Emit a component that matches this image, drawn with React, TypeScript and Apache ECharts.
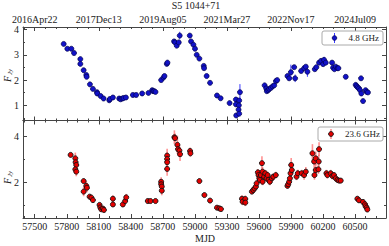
import React, { useEffect, useRef } from "react";
import * as echarts from "echarts";

// ---------- data ----------
const mjd48 = [57771, 57805, 57843, 57868, 57927, 57927, 57958, 57983, 57986, 58017, 58045, 58083, 58085, 58117, 58145, 58198, 58204, 58232, 58291, 58304, 58320, 58332, 58354, 58419, 58450, 58506, 58565, 58600, 58609, 58619, 58631, 58684, 58706, 58715, 58737, 58743, 58805, 58815, 58830, 58849, 58858, 58952, 58964, 58986, 59001, 59017, 59042, 59083, 59086, 59110, 59142, 59207, 59241, 59325, 59384, 59384, 59387, 59415, 59412, 59409, 59415, 59422, 59653, 59668, 59674, 59687, 59696, 59712, 59727, 59743, 59759, 59771, 59867, 59883, 59899, 59930, 59939, 59995, 60023, 60039, 60054, 60123, 60138, 60163, 60182, 60201, 60210, 60226, 60285, 60294, 60307, 60319, 60335, 60344, 60413, 60506, 60515, 60525, 60537, 60547, 60556, 60559, 60575, 60599, 60609, 60621];
const flux48 = [3.43, 3.24, 3.24, 3.07, 2.83, 2.64, 2.39, 2.2, 2.13, 1.83, 1.65, 1.52, 1.47, 1.37, 1.27, 1.2, 1.25, 1.31, 1.27, 1.24, 1.27, 1.29, 1.31, 1.41, 1.41, 1.47, 1.49, 1.6, 1.56, 1.56, 1.53, 2.0, 2.1, 2.16, 2.64, 2.69, 3.53, 3.49, 3.36, 3.49, 3.76, 3.76, 3.53, 3.4, 3.24, 3.0, 2.85, 2.56, 2.47, 2.16, 1.89, 1.39, 1.28, 1.09, 1.23, 1.04, 0.6, 1.19, 1.0, 0.83, 0.67, 1.52, 1.79, 1.67, 1.56, 1.6, 1.65, 1.69, 1.75, 1.79, 1.96, 2.0, 2.16, 2.07, 2.31, 2.51, 2.07, 2.36, 2.47, 2.53, 2.33, 2.43, 2.51, 2.69, 2.76, 2.63, 2.8, 2.69, 2.69, 2.49, 2.43, 2.53, 2.47, 2.47, 2.13, 1.81, 1.76, 1.71, 1.67, 1.6, 2.07, 1.47, 1.17, 1.6, 1.53, 1.51];
const err48 = [0.04, 0.04, 0.04, 0.04, 0.05, 0.05, 0.04, 0.04, 0.04, 0.04, 0.04, 0.04, 0.04, 0.03, 0.03, 0.03, 0.03, 0.03, 0.03, 0.03, 0.03, 0.03, 0.03, 0.03, 0.03, 0.03, 0.03, 0.04, 0.03, 0.03, 0.03, 0.04, 0.04, 0.04, 0.04, 0.04, 0.05, 0.05, 0.05, 0.05, 0.15, 0.05, 0.05, 0.05, 0.05, 0.04, 0.04, 0.05, 0.05, 0.04, 0.04, 0.04, 0.04, 0.08, 0.1, 0.1, 0.1, 0.08, 0.1, 0.1, 0.1, 0.32, 0.04, 0.04, 0.04, 0.04, 0.04, 0.04, 0.04, 0.04, 0.04, 0.04, 0.05, 0.06, 0.3, 0.06, 0.15, 0.05, 0.05, 0.05, 0.2, 0.05, 0.05, 0.05, 0.06, 0.06, 0.12, 0.05, 0.05, 0.05, 0.05, 0.05, 0.05, 0.05, 0.05, 0.05, 0.05, 0.05, 0.05, 0.05, 0.05, 0.06, 0.06, 0.05, 0.05, 0.05];

const mjd23 = [57836, 57880, 57883, 57889, 57880, 57889, 57958, 57983, 57989, 57958, 58014, 58030, 58045, 58107, 58114, 58123, 58139, 58148, 58232, 58232, 58325, 58347, 58357, 58559, 58584, 58631, 58684, 58684, 58690, 58690, 58740, 58740, 58740, 58740, 58808, 58814, 58836, 58842, 58855, 58861, 58955, 58958, 59042, 59089, 59142, 59207, 59229, 59244, 59441, 59447, 59472, 59472, 59534, 59547, 59559, 59572, 59578, 59590, 59596, 59603, 59609, 59618, 59628, 59634, 59634, 59649, 59659, 59671, 59681, 59690, 59702, 59721, 59734, 59758, 59867, 59874, 59883, 59890, 59896, 59902, 59908, 59952, 59964, 60001, 60023, 60039, 60101, 60117, 60132, 60120, 60132, 60157, 60163, 60160, 60232, 60241, 60272, 60288, 60303, 60319, 60335, 60350, 60366, 60522, 60537, 60574, 60593, 60599, 60609, 60615];
const flux23 = [3.2, 3.05, 2.88, 2.76, 2.57, 2.47, 2.06, 1.85, 1.77, 1.6, 1.38, 1.34, 1.23, 1.02, 0.91, 0.83, 0.86, 0.8, 1.29, 1.04, 1.04, 1.19, 1.35, 1.19, 1.19, 1.19, 2.03, 1.92, 1.82, 1.64, 3.17, 3.02, 2.88, 2.59, 3.97, 3.93, 3.64, 3.45, 3.39, 3.23, 3.37, 3.27, 2.06, 1.45, 1.21, 0.9, 0.87, 0.84, 1.29, 1.16, 1.28, 1.12, 1.6, 1.67, 1.74, 1.82, 1.96, 2.44, 2.32, 2.18, 2.11, 2.32, 2.84, 2.47, 2.03, 2.25, 2.4, 2.18, 2.32, 2.11, 2.03, 2.18, 2.25, 2.32, 1.85, 1.92, 2.03, 2.18, 2.4, 2.76, 2.54, 2.25, 2.4, 2.4, 2.32, 2.47, 3.27, 2.91, 3.05, 2.32, 2.54, 2.57, 3.45, 2.91, 2.4, 2.32, 2.4, 2.28, 2.32, 2.18, 2.11, 2.08, 2.08, 1.29, 1.22, 1.15, 1.05, 0.96, 0.9, 0.82];
const err23 = [0.05, 0.25, 0.2, 0.2, 0.2, 0.2, 0.1, 0.2, 0.2, 0.2, 0.1, 0.1, 0.08, 0.1, 0.1, 0.1, 0.1, 0.1, 0.15, 0.1, 0.1, 0.15, 0.15, 0.08, 0.08, 0.08, 0.2, 0.2, 0.2, 0.2, 0.3, 0.3, 0.3, 0.3, 0.3, 0.2, 0.4, 0.3, 0.25, 0.3, 0.15, 0.15, 0.1, 0.06, 0.06, 0.06, 0.05, 0.05, 0.15, 0.15, 0.15, 0.15, 0.1, 0.1, 0.1, 0.1, 0.15, 0.15, 0.15, 0.15, 0.15, 0.2, 0.3, 0.2, 0.15, 0.15, 0.15, 0.15, 0.15, 0.15, 0.15, 0.15, 0.15, 0.15, 0.1, 0.1, 0.1, 0.15, 0.2, 0.3, 0.25, 0.15, 0.15, 0.15, 0.2, 0.2, 0.4, 0.3, 0.3, 0.2, 0.3, 0.2, 0.3, 0.3, 0.15, 0.15, 0.15, 0.15, 0.1, 0.1, 0.08, 0.08, 0.08, 0.1, 0.1, 0.1, 0.1, 0.1, 0.1, 0.1];

const bottomTickValues = [57500, 57800, 58100, 58400, 58700, 59000, 59300, 59600, 59900, 60200, 60500];
const topTickValues = [57500, 58100, 58700, 59300, 59900, 60500];
const topTickLabels = ["2016Apr22", "2017Dec13", "2019Aug05", "2021Mar27", "2022Nov17", "2024Jul09"];
const yTop = [1, 2, 3, 4];
const yTopMinor = [0.5, 1.5, 2.5, 3.5];
const yBot = [2, 4];
const yBotMinor = [1, 3];

const X_MIN = 57390;
const X_MAX = 60790;
const FONT = "Liberation Serif";
const FRAME = "#444";

const minorX: number[] = [];
for (let v = 57400; v <= 60700; v += 100) minorX.push(v);

function xAx(grid: number, pos: string, ticks: number[], len: number, line: boolean, label?: any) {
  return {
    type: "value", gridIndex: grid, position: pos, min: X_MIN, max: X_MAX,
    axisLine: { show: line, onZero: false, lineStyle: { color: FRAME, width: 1 } },
    axisTick: { show: true, inside: true, length: len, customValues: ticks, lineStyle: { color: FRAME, width: 1 } },
    axisLabel: label ? { show: true, fontFamily: FONT, fontSize: 10, color: "#222", margin: 3, ...label } : { show: false },
    splitLine: { show: false },
  };
}
function yAx(grid: number, pos: string, min: number, max: number, ticks: number[], len: number, line: boolean, label?: any) {
  return {
    type: "value", gridIndex: grid, position: pos, min, max,
    axisLine: { show: line, onZero: false, lineStyle: { color: FRAME, width: 1 } },
    axisTick: { show: true, inside: true, length: len, customValues: ticks, lineStyle: { color: FRAME, width: 1 } },
    axisLabel: label ? { show: true, fontFamily: FONT, fontSize: 10, color: "#222", margin: 4, ...label } : { show: false },
    splitLine: { show: false },
  };
}

function errSeries(xi: number, data: number[][], color: string, w: number) {
  return {
    type: "custom", xAxisIndex: xi, yAxisIndex: xi, data, encode: { x: 0, y: 1 }, z: 2,
    renderItem: (_p: any, api: any) => {
      const x = api.value(0), y = api.value(1), e = api.value(2);
      const a = api.coord([x, y - e]);
      const b = api.coord([x, y + e]);
      return { type: "line", shape: { x1: a[0], y1: a[1], x2: b[0], y2: b[1] }, style: { stroke: color, lineWidth: w } };
    },
  };
}

export default function App() {
  const ref = useRef<HTMLDivElement>(null);
  useEffect(() => {
    if (!ref.current) return;
    const chart = echarts.init(ref.current, null, { renderer: "svg" });
    const d48 = mjd48.map((m, i) => [m, flux48[i], err48[i]]);
    const d23 = mjd23.map((m, i) => [m, flux23[i], err23[i]]);
    const option: any = {
      animation: false,
      backgroundColor: "#fff",
      grid: [
        { left: 23, right: 3, top: 27, height: 93.5 },
        { left: 23, right: 3, top: 120.5, height: 97.5 },
      ],
      xAxis: [
        xAx(0, "bottom", topTickValues, 4, true),
        xAx(0, "bottom", minorX, 2, false),
        xAx(0, "top", topTickValues, 4, true, {
          customValues: topTickValues,
          formatter: (v: number) => topTickLabels[topTickValues.indexOf(v)] ?? "",
        }),
        xAx(0, "top", minorX, 2, false),
        xAx(1, "bottom", bottomTickValues, 4, true, {
          customValues: bottomTickValues,
          formatter: (v: number) => String(v),
        }),
        xAx(1, "bottom", minorX, 2, false),
        xAx(1, "top", topTickValues, 4, true),
        xAx(1, "top", minorX, 2, false),
      ],
      yAxis: [
        yAx(0, "left", 0.4, 4.1, yTop, 4, true, { customValues: yTop, formatter: (v: number) => String(v) }),
        yAx(0, "left", 0.4, 4.1, yTopMinor, 2, false),
        yAx(0, "right", 0.4, 4.1, yTop, 4, true),
        yAx(0, "right", 0.4, 4.1, yTopMinor, 2, false),
        yAx(1, "left", 0.45, 4.7, yBot, 4, true, { customValues: yBot, formatter: (v: number) => String(v) }),
        yAx(1, "left", 0.45, 4.7, yBotMinor, 2, false),
        yAx(1, "right", 0.45, 4.7, yBot, 4, true),
        yAx(1, "right", 0.45, 4.7, yBotMinor, 2, false),
      ],
      series: [
        errSeries(0, d48, "#3a3aff", 1),
        {
          type: "scatter", xAxisIndex: 0, yAxisIndex: 0, data: d48, z: 3,
          symbol: "circle", symbolSize: 5,
          itemStyle: { color: "#1212c8", borderColor: "#00004a", borderWidth: 0.7, opacity: 1 },
        },
        errSeries(4, d23, "rgba(255,110,110,0.75)", 1.6),
        {
          type: "scatter", xAxisIndex: 4, yAxisIndex: 4, data: d23, z: 3,
          symbol: "circle", symbolSize: 5,
          itemStyle: { color: "#e60000", borderColor: "#111", borderWidth: 0.9, opacity: 1 },
        },
      ],
      graphic: [
        { type: "text", x: 196, y: 5, style: { text: "S5 1044+71", font: `10px "${FONT}"`, fill: "#222", textAlign: "center", textVerticalAlign: "middle" } },
        { type: "text", x: 205, y: 238, style: { text: "MJD", font: `10px "${FONT}"`, fill: "#222", textAlign: "center", textVerticalAlign: "middle" } },
        { type: "text", x: 7, y: 79, rotation: Math.PI / 2, style: { text: "F", font: `italic 10px "${FONT}"`, fill: "#222", textAlign: "center", textVerticalAlign: "middle" } },
        { type: "text", x: 9.5, y: 72, rotation: Math.PI / 2, style: { text: "Jy", font: `italic 7px "${FONT}"`, fill: "#222", textAlign: "center", textVerticalAlign: "middle" } },
        { type: "text", x: 7, y: 181, rotation: Math.PI / 2, style: { text: "F", font: `italic 10px "${FONT}"`, fill: "#222", textAlign: "center", textVerticalAlign: "middle" } },
        { type: "text", x: 9.5, y: 174, rotation: Math.PI / 2, style: { text: "Jy", font: `italic 7px "${FONT}"`, fill: "#222", textAlign: "center", textVerticalAlign: "middle" } },
        // legend top
        { type: "rect", z: 100, shape: { x: 322, y: 31, width: 61, height: 14, r: 2 }, style: { fill: "#fff", stroke: "#aaa", lineWidth: 1 } },
        { type: "line", z: 101, shape: { x1: 334.5, y1: 33, x2: 334.5, y2: 43 }, style: { stroke: "#3a3aff", lineWidth: 1 } },
        { type: "circle", z: 102, shape: { cx: 334.5, cy: 38, r: 2.3 }, style: { fill: "#1212c8", stroke: "#00004a", lineWidth: 0.7 } },
        { type: "text", z: 102, x: 379, y: 38, style: { text: "4.8 GHz", font: `9px "${FONT}"`, fill: "#222", textAlign: "right", textVerticalAlign: "middle" } },
        // legend bottom
        { type: "rect", z: 100, shape: { x: 318, y: 127, width: 65, height: 14, r: 2 }, style: { fill: "#fff", stroke: "#aaa", lineWidth: 1 } },
        { type: "line", z: 101, shape: { x1: 331, y1: 129, x2: 331, y2: 139 }, style: { stroke: "rgba(255,110,110,0.75)", lineWidth: 1.6 } },
        { type: "circle", z: 102, shape: { cx: 331, cy: 134, r: 2.4 }, style: { fill: "#e60000", stroke: "#111", lineWidth: 0.9 } },
        { type: "text", z: 102, x: 380, y: 134, style: { text: "23.6 GHz", font: `9px "${FONT}"`, fill: "#222", textAlign: "right", textVerticalAlign: "middle" } },
      ],
    };
    chart.setOption(option);
    return () => chart.dispose();
  }, []);
  return <div ref={ref} style={{ position: "fixed", left: 0, top: 0, width: 389, height: 246 }} />;
}
